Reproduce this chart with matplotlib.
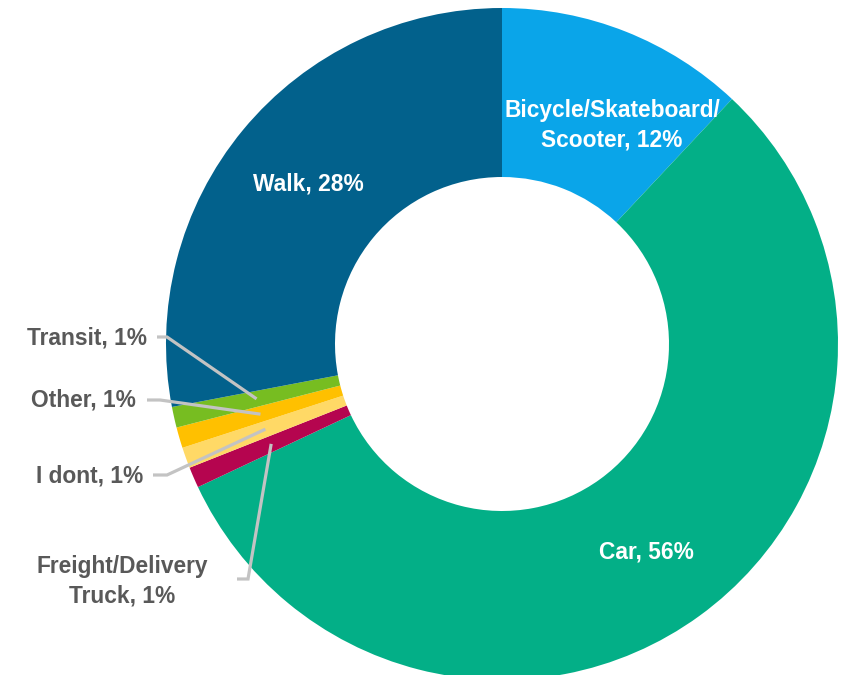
import numpy as np
import matplotlib
matplotlib.use("Agg")
import matplotlib.pyplot as plt

# Travel mode shares (percent), clockwise from 12 o'clock
modes = ["Bicycle/Skateboard/\nScooter", "Car", "Freight/Delivery\nTruck", "I dont", "Other", "Transit", "Walk"]
shares = [12, 56, 1, 1, 1, 1, 28]
colors = ["#0AA5E9", "#03AF87", "#B5054F", "#FFD966", "#FFC000", "#77BD21", "#02618C"]

W, H = 852, 675
fig = plt.figure(figsize=(W / 100, H / 100), dpi=100)
ax = fig.add_axes([0, 0, 1, 1])

cx, cy = 502, H - 344
r_out, r_in = 336, 167
ring = r_out - r_in

wedges, _ = ax.pie(shares, colors=colors, startangle=90, counterclock=False,
                   radius=r_out, center=(cx, cy), frame=True,
                   wedgeprops=dict(width=ring, linewidth=0))
ax.set_xlim(0, W)
ax.set_ylim(0, H)
ax.set_aspect("equal")
ax.axis("off")

FONT = ["Liberation Sans", "DejaVu Sans"]
fs = 16.4
gray = "#595959"
lead = "#C3C3C3"
r_mid = (r_out + r_in) / 2


def mid_point(w, r=r_mid):
    ang = np.deg2rad((w.theta1 + w.theta2) / 2)
    return cx + r * np.cos(ang), cy + r * np.sin(ang)


def label(i):
    return f"{modes[i]}, {shares[i]}%"


# labels inside the ring
x, y = mid_point(wedges[6])
ax.text(x, y, label(6), color="white", fontsize=fs, fontweight="bold",
        family=FONT, ha="center", va="center")
x, y = mid_point(wedges[1])
ax.text(x - 3, y - 5, label(1), color="white", fontsize=fs, fontweight="bold",
        family=FONT, ha="center", va="center")
ax.text(612, H - 125, label(0), color="white", fontsize=fs, fontweight="bold",
        family=FONT, ha="center", va="center", linespacing=1.35)

# small slices: outside labels with elbow leader lines
outside = [
    # index, text anchor, ha, elbow start, elbow corner
    (5, (147, H - 338), "right", (157, H - 337), (167, H - 337)),
    (4, (136, H - 400), "right", (147, H - 400), (160, H - 400)),
    (3, (143, H - 476), "right", (153, H - 475), (167, H - 475)),
    (2, (122, H - 581), "center", (237, H - 579), (248, H - 579)),
]
for i, (tx, ty), ha, p0, p1 in outside:
    ex, ey = mid_point(wedges[i])
    ax.plot([p0[0], p1[0], ex], [p0[1], p1[1], ey], color=lead, lw=2.3,
            solid_capstyle="butt", solid_joinstyle="miter", zorder=3)
    ax.text(tx, ty, label(i), color=gray, fontsize=fs, fontweight="bold",
            family=FONT, ha=ha, va="center", linespacing=1.35)

fig.savefig("out.png", dpi=100, facecolor="white")
